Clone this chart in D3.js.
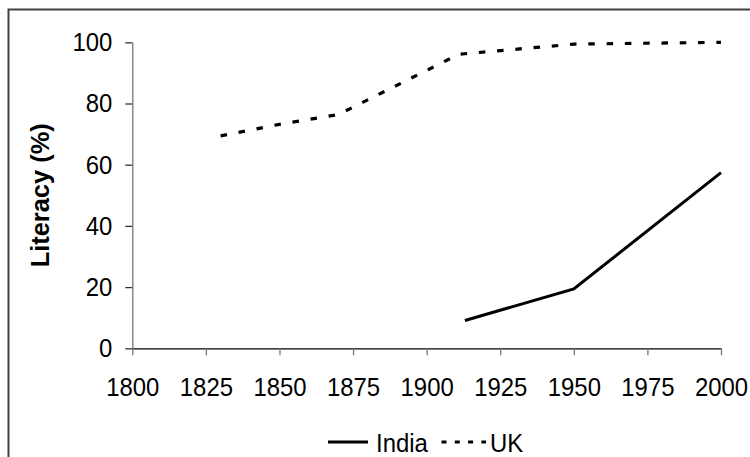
<!DOCTYPE html>
<html>
<head>
<meta charset="utf-8">
<script src="https://cdn.jsdelivr.net/npm/d3@7"></script>
<style>
  body { margin: 0; background: #fff; }
  text { font-family: "Liberation Sans", Arial, sans-serif; }
</style>
</head>
<body>
<div id="plot"></div>
<script>
// Literacy over time
const indiaYears = [1913, 1950, 2000];
const indiaValues = [9.1, 19.4, 57.4];
const ukYears = [1830, 1850, 1870, 1911, 1950, 2000];
const ukValues = [69.4, 73.2, 76.4, 96.1, 99.4, 100];
const xTicks = [1800, 1825, 1850, 1875, 1900, 1925, 1950, 1975, 2000];
const yTicks = [0, 20, 40, 60, 80, 100];

const W = 750, H = 457;
const fs = 26, sx = 0.92; // the original text is slightly condensed

const svg = d3.select("#plot")
    .append("svg")
    .attr("width", W)
    .attr("height", H);

// outer frame, cut off on the right and bottom like the original
svg.append("rect")
    .attr("x", 8.5)
    .attr("y", 9.5)
    .attr("width", 800)
    .attr("height", 500)
    .attr("fill", "none")
    .attr("stroke", "#404040")
    .attr("stroke-width", 2);

const x = d3.scaleLinear().domain([1800, 2000]).range([132.3, 721]);
const y = d3.scaleLinear().domain([0, 100]).range([348.3, 42.3]);

// y axis
const gy = svg.append("g")
    .attr("transform", `translate(${x(1800)},0)`)
    .call(d3.axisLeft(y).tickValues(yTicks).tickSize(7).tickSizeOuter(0).tickPadding(13));
gy.select(".domain").attr("stroke", "#777").attr("stroke-width", 1.3);
gy.selectAll(".tick line").attr("stroke", "#333").attr("stroke-width", 1.3);
gy.selectAll("text")
    .attr("font-size", fs).attr("fill", "#000")
    .attr("x", -20 / sx)
    .attr("transform", `scale(${sx},1)`);

// x axis
const gx = svg.append("g")
    .attr("transform", `translate(0,${y(0)})`)
    .call(d3.axisBottom(x).tickValues(xTicks).tickFormat(d3.format("d"))
        .tickSize(7).tickSizeOuter(0).tickPadding(22));
gx.select(".domain").attr("stroke", "#000").attr("stroke-width", 1.3);
gx.selectAll(".tick line").attr("stroke", "#777").attr("stroke-width", 1.3);
gx.selectAll("text")
    .attr("font-size", fs).attr("fill", "#000")
    .attr("transform", `scale(${sx},1)`);

svg.append("text")
    .attr("transform", `translate(49,${(y(0) + y(100)) / 2}) rotate(-90)`)
    .attr("text-anchor", "middle")
    .attr("font-size", 26)
    .attr("font-weight", "bold")
    .attr("textLength", 144)
    .attr("lengthAdjust", "spacingAndGlyphs")
    .text("Literacy (%)");

const line = d3.line()
    .x(d => x(d[0]))
    .y(d => y(d[1]));

svg.append("path")
    .datum(ukYears.map((yr, i) => [yr, ukValues[i]]))
    .attr("d", line)
    .attr("fill", "none")
    .attr("stroke", "#000")
    .attr("stroke-width", 3.2)
    .attr("stroke-dasharray", "6.5,11.8");

svg.append("path")
    .datum(indiaYears.map((yr, i) => [yr, indiaValues[i]]))
    .attr("d", line)
    .attr("fill", "none")
    .attr("stroke", "#000")
    .attr("stroke-width", 3);

// legend
const legend = svg.append("g").attr("transform", "translate(0,442)");
legend.append("line")
    .attr("x1", 328).attr("x2", 368)
    .attr("stroke", "#000").attr("stroke-width", 3);
legend.append("text")
    .attr("transform", `translate(376,10) scale(${sx},1)`)
    .attr("font-size", fs)
    .text("India");
legend.append("line")
    .attr("x1", 441.5).attr("x2", 486)
    .attr("stroke", "#000").attr("stroke-width", 3.2)
    .attr("stroke-dasharray", "5,8.3");
legend.append("text")
    .attr("transform", `translate(490,10) scale(${sx},1)`)
    .attr("font-size", fs)
    .text("UK");
</script>
</body>
</html>
